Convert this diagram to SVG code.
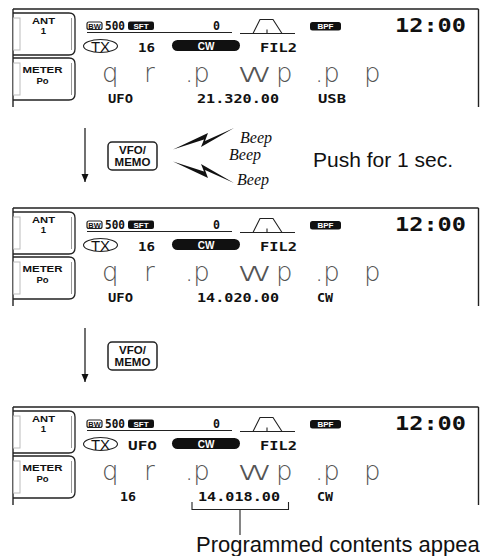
<svg xmlns="http://www.w3.org/2000/svg" xmlns:xlink="http://www.w3.org/1999/xlink" width="480" height="556" viewBox="0 0 480 556">
<style>
.ln{stroke:#222;stroke-width:1.4;fill:none}
.thin{stroke:#222;stroke-width:1.1;fill:none}
.dig{font-family:"DejaVu Sans Mono","Liberation Mono",monospace;font-weight:bold;font-size:12px;fill:#111}
.bw{font-family:"Liberation Sans",Arial,sans-serif;font-weight:bold;font-size:7.5px;fill:#111;text-anchor:middle}
.tabt{font-family:"Liberation Sans",Arial,sans-serif;font-weight:bold;font-size:9.5px;fill:#111;text-anchor:middle}
.inv{font-family:"Liberation Sans",Arial,sans-serif;font-weight:bold;font-size:8px;fill:#fff;text-anchor:middle}
.inv2{font-family:"Liberation Sans",Arial,sans-serif;font-weight:bold;font-size:10px;fill:#fff;text-anchor:middle}
.big{font-family:"DejaVu Sans","Liberation Sans",sans-serif;font-weight:200;font-size:26px;fill:#555}
.clock{font-family:"DejaVu Sans Mono","Liberation Mono",monospace;font-weight:bold;font-size:19px;fill:#111}
.tx{font-family:"Liberation Sans",Arial,sans-serif;font-size:15px;fill:#111;text-anchor:middle}
.key{font-family:"Liberation Sans",Arial,sans-serif;font-weight:bold;font-size:11.5px;fill:#111;text-anchor:middle}
.beep{font-family:"Liberation Serif","Times New Roman",serif;font-style:italic;font-size:16px;fill:#111}
.lab{font-family:"Liberation Sans",Arial,sans-serif;font-size:21px;fill:#111}
.note{font-family:"Liberation Sans",Arial,sans-serif;font-size:22px;fill:#111}
</style>
<defs>
<g id="tab">
<rect x="13.5" y="5" width="6.5" height="32" fill="none" stroke="#bbb" stroke-width="1"/>
<path d="M13,0 H69 Q75,0 75,6 V36 Q75,42 69,42 H13" fill="none" stroke="#222" stroke-width="1.3"/>
<path d="M71.5,5 V37" stroke="#999" stroke-width="1"/>
</g>
<g id="frame">
<path class="ln" d="M13,0 H478.5 M13,0 V98 M478.5,0 V98"/>
<use xlink:href="#tab" y="4"/>
<use xlink:href="#tab" y="49"/>
<rect x="87" y="13" width="15" height="7.5" rx="2" fill="none" stroke="#222" stroke-width="1.2"/>
<rect x="128" y="12.5" width="26" height="8.5" rx="2" fill="#111"/>
<rect x="310" y="13" width="31" height="8.5" rx="2.5" fill="#111"/>
<path class="thin" d="M87,23.5 H232 M240,24.5 H295 M253,24.5 L260,10.5 H273 L282,24.5 M267,24.5 V20.5"/>
<ellipse cx="100.5" cy="37" rx="17" ry="6.5" fill="none" stroke="#222" stroke-width="1.1"/>
<rect x="172" y="31" width="68" height="11" rx="5.5" fill="#111"/>
</g>
<marker id="ah" viewBox="0 0 8 10" refX="8" refY="5" markerWidth="8" markerHeight="10" markerUnits="userSpaceOnUse" orient="auto">
<path d="M0,1.5 L8,5 L0,8.5 Z" fill="#111"/>
</marker>
</defs>

<g id="display1" transform="translate(0,9)">
<use xlink:href="#frame"/>
<text class="tabt" x="43.5" y="14.5" textLength="23" lengthAdjust="spacingAndGlyphs">ANT</text>
<text class="tabt" x="43.5" y="25">1</text>
<text class="tabt" x="42.5" y="64" textLength="40" lengthAdjust="spacingAndGlyphs">METER</text>
<text class="tabt" x="42.5" y="74.5">Po</text>
<text class="bw" x="94.5" y="19.5">BW</text>
<text class="dig" x="105" y="20.5" textLength="20" lengthAdjust="spacingAndGlyphs">500</text>
<text class="inv" x="141" y="19.8">SFT</text>
<text class="dig" x="213" y="20.5" textLength="7" lengthAdjust="spacingAndGlyphs">0</text>
<text class="inv" x="325.5" y="20.3">BPF</text>
<text class="clock" x="395" y="22.5" textLength="71" lengthAdjust="spacingAndGlyphs">12:00</text>
<text class="tx" x="100.5" y="42.5">TX</text>
<text class="dig" x="138" y="42.5" textLength="17" lengthAdjust="spacingAndGlyphs">16</text>
<text class="inv2" x="206" y="40.5">CW</text>
<text class="dig" x="260" y="43" textLength="37" lengthAdjust="spacingAndGlyphs">FIL2</text>
<text class="big" x="102" y="73">q</text>
<text class="big" x="144" y="73">r</text>
<text class="big" x="185" y="73">.p</text>
<text class="big" x="237" y="73" textLength="36" lengthAdjust="spacingAndGlyphs">w</text>
<text class="big" x="276" y="73">p</text>
<text class="big" x="315" y="73">.p</text>
<text class="big" x="364" y="73">p</text>
<text class="dig" x="108" y="93.5" textLength="25" lengthAdjust="spacingAndGlyphs">UFO</text>
<text class="dig" x="197" y="93.5" textLength="82" lengthAdjust="spacingAndGlyphs">21.320.00</text>
<text class="dig" x="318" y="93.5" textLength="28" lengthAdjust="spacingAndGlyphs">USB</text>
</g>

<g id="display2" transform="translate(0,208)">
<use xlink:href="#frame"/>
<text class="tabt" x="43.5" y="14.5" textLength="23" lengthAdjust="spacingAndGlyphs">ANT</text>
<text class="tabt" x="43.5" y="25">1</text>
<text class="tabt" x="42.5" y="64" textLength="40" lengthAdjust="spacingAndGlyphs">METER</text>
<text class="tabt" x="42.5" y="74.5">Po</text>
<text class="bw" x="94.5" y="19.5">BW</text>
<text class="dig" x="105" y="20.5" textLength="20" lengthAdjust="spacingAndGlyphs">500</text>
<text class="inv" x="141" y="19.8">SFT</text>
<text class="dig" x="213" y="20.5" textLength="7" lengthAdjust="spacingAndGlyphs">0</text>
<text class="inv" x="325.5" y="20.3">BPF</text>
<text class="clock" x="395" y="22.5" textLength="71" lengthAdjust="spacingAndGlyphs">12:00</text>
<text class="tx" x="100.5" y="42.5">TX</text>
<text class="dig" x="138" y="42.5" textLength="17" lengthAdjust="spacingAndGlyphs">16</text>
<text class="inv2" x="206" y="40.5">CW</text>
<text class="dig" x="260" y="43" textLength="37" lengthAdjust="spacingAndGlyphs">FIL2</text>
<text class="big" x="102" y="73">q</text>
<text class="big" x="144" y="73">r</text>
<text class="big" x="185" y="73">.p</text>
<text class="big" x="237" y="73" textLength="36" lengthAdjust="spacingAndGlyphs">w</text>
<text class="big" x="276" y="73">p</text>
<text class="big" x="315" y="73">.p</text>
<text class="big" x="364" y="73">p</text>
<text class="dig" x="108" y="93.5" textLength="25" lengthAdjust="spacingAndGlyphs">UFO</text>
<text class="dig" x="197" y="93.5" textLength="82" lengthAdjust="spacingAndGlyphs">14.020.00</text>
<text class="dig" x="317" y="93.5" textLength="16" lengthAdjust="spacingAndGlyphs">CW</text>
</g>

<g id="display3" transform="translate(0,407)">
<use xlink:href="#frame"/>
<text class="tabt" x="43.5" y="14.5" textLength="23" lengthAdjust="spacingAndGlyphs">ANT</text>
<text class="tabt" x="43.5" y="25">1</text>
<text class="tabt" x="42.5" y="64" textLength="40" lengthAdjust="spacingAndGlyphs">METER</text>
<text class="tabt" x="42.5" y="74.5">Po</text>
<text class="bw" x="94.5" y="19.5">BW</text>
<text class="dig" x="105" y="20.5" textLength="20" lengthAdjust="spacingAndGlyphs">500</text>
<text class="inv" x="141" y="19.8">SFT</text>
<text class="dig" x="213" y="20.5" textLength="7" lengthAdjust="spacingAndGlyphs">0</text>
<text class="inv" x="325.5" y="20.3">BPF</text>
<text class="clock" x="395" y="22.5" textLength="71" lengthAdjust="spacingAndGlyphs">12:00</text>
<text class="tx" x="100.5" y="42.5">TX</text>
<text class="dig" x="128" y="42.5" textLength="29" lengthAdjust="spacingAndGlyphs">UFO</text>
<text class="inv2" x="206" y="40.5">CW</text>
<text class="dig" x="260" y="43" textLength="37" lengthAdjust="spacingAndGlyphs">FIL2</text>
<text class="big" x="102" y="73">q</text>
<text class="big" x="144" y="73">r</text>
<text class="big" x="185" y="73">.p</text>
<text class="big" x="237" y="73" textLength="36" lengthAdjust="spacingAndGlyphs">w</text>
<text class="big" x="276" y="73">p</text>
<text class="big" x="315" y="73">.p</text>
<text class="big" x="364" y="73">p</text>
<text class="dig" x="120" y="93.5" textLength="16" lengthAdjust="spacingAndGlyphs">16</text>
<text class="dig" x="198" y="93.5" textLength="82" lengthAdjust="spacingAndGlyphs">14.018.00</text>
<text class="dig" x="317" y="93.5" textLength="16" lengthAdjust="spacingAndGlyphs">CW</text>
</g>

<g id="key1">
<rect x="108" y="142" width="49" height="28" rx="4" fill="#fff" stroke="#222" stroke-width="1.5"/>
<text class="key" x="132.5" y="153.5">VFO/</text>
<text class="key" x="132.5" y="165.5">MEMO</text>
</g>
<g id="beeps">
<polygon points="173,149.5 208,133 205,141 234,128 201,147 204,139.5" fill="#111"/>
<polygon points="173,161.5 208,178 205,170 234,183 201,164 204,171.5" fill="#111"/>
<text class="beep" x="240" y="143">Beep</text>
<text class="beep" x="229" y="160">Beep</text>
<text class="beep" x="237" y="185">Beep</text>
</g>
<g id="push-label">
<text class="lab" x="313" y="166.5">Push for 1 sec.</text>
</g>
<g id="key2">
<rect x="108" y="342" width="49" height="28" rx="4" fill="#fff" stroke="#222" stroke-width="1.5"/>
<text class="key" x="132.5" y="353.5">VFO/</text>
<text class="key" x="132.5" y="365.5">MEMO</text>
</g>
<g id="note">
<text class="note" x="196" y="552">Programmed contents appea</text>
</g>

<g id="connectors">
<path d="M85,128 V182" stroke="#111" stroke-width="1.2" marker-end="url(#ah)"/>
<path d="M85,328 V382" stroke="#111" stroke-width="1.2" marker-end="url(#ah)"/>
<path d="M192,502 V509.5 H288.5 V502 M240,509.5 V535" fill="none" stroke="#222" stroke-width="1.1"/>
</g>
</svg>
